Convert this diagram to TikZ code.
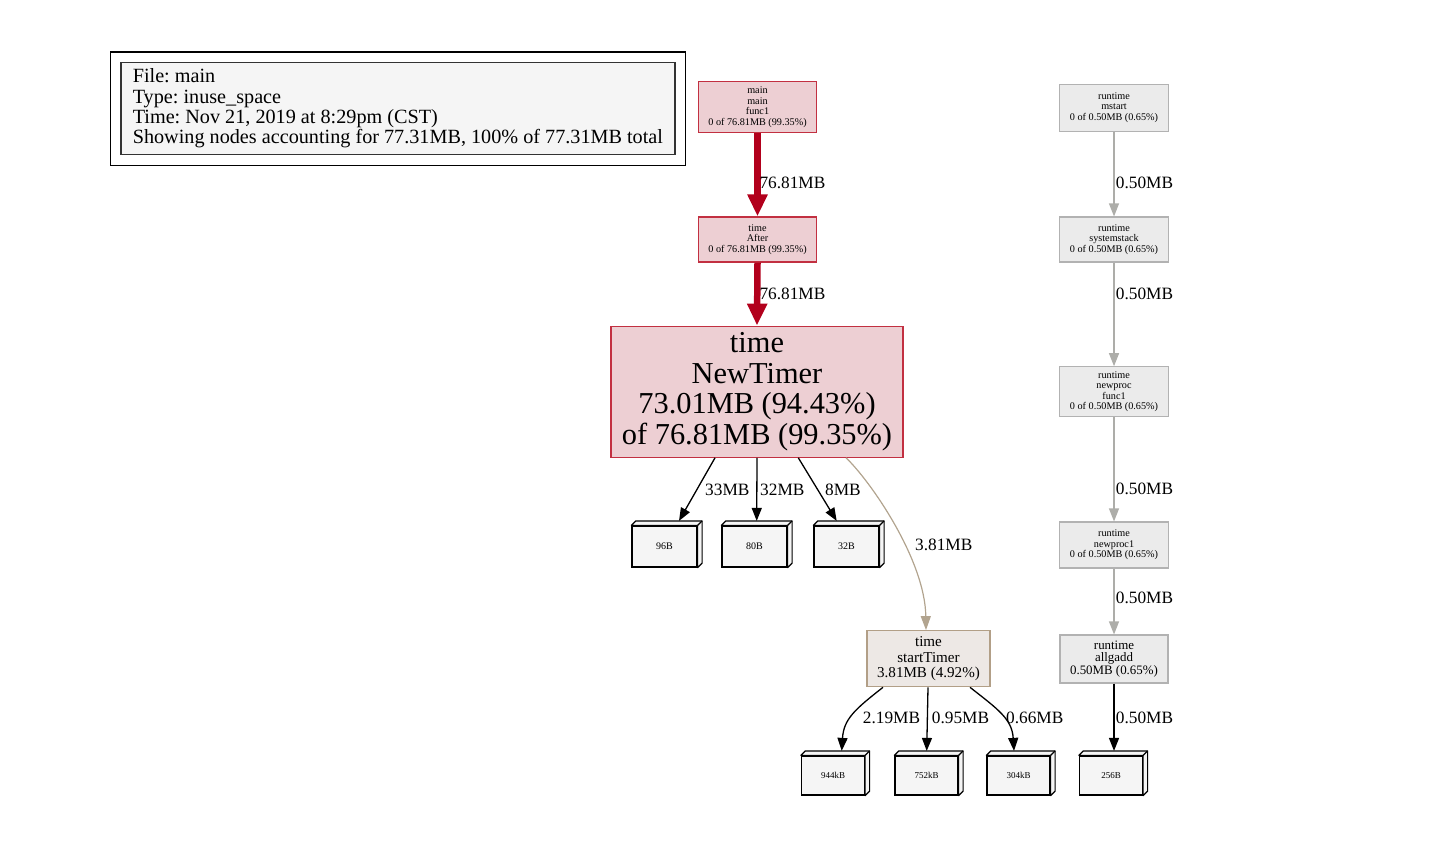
\documentclass[tikz,border=0pt]{standalone}
\usepackage{fontspec}
\setmainfont{Liberation Serif}
\usetikzlibrary{arrows.meta,calc}
\definecolor{HotFill}{HTML}{EDCFD3}
\definecolor{HotLine}{HTML}{C23041}
\definecolor{HotEdge}{HTML}{B2001C}
\definecolor{ColdFill}{HTML}{EBEBEB}
\definecolor{ColdLine}{HTML}{B2B2B2}
\definecolor{ColdEdge}{HTML}{ADADA9}
\definecolor{WarmFill}{HTML}{EDE8E5}
\definecolor{WarmLine}{HTML}{B29F87}
\definecolor{WarmEdge}{HTML}{B2A48F}
\definecolor{BoxFill}{HTML}{F5F5F5}
\frenchspacing

\begin{document}
\begin{tikzpicture}[x=1pt,y=1pt,yscale=-1,xscale=1,
	hotnode/.style={draw=HotLine, fill=HotFill, line width=1.2pt, inner sep=0pt, align=center},
	coldnode/.style={draw=ColdLine, fill=ColdFill, line width=1.2pt, inner sep=0pt, align=center},
	warmnode/.style={draw=WarmLine, fill=WarmFill, line width=1.2pt, inner sep=0pt, align=center},
	tagbox/.style={draw=black, fill=BoxFill, line width=1.2pt, inner sep=0pt, minimum height=41},
	boxface/.style={draw=black, fill=BoxFill, line width=1.2pt, line join=round},
	tinytext/.style={font=\fontsize{10.2}{10.4}\selectfont},
	elabel/.style={font=\fontsize{17.3}{17.3}\selectfont, inner sep=0pt, anchor=west},
	hotedge/.style={draw=HotEdge, line width=6.5pt, -{Triangle[length=22pt,width=19pt]}},
	coldedge/.style={draw=ColdEdge, line width=1.2pt, -{Triangle[length=13pt,width=10pt]}},
	warmedge/.style={draw=WarmEdge, line width=1.2pt, -{Triangle[length=14pt,width=10pt]}},
	tagedge/.style={draw=black, line width=1.3pt, -{Triangle[length=13pt,width=10pt]}}]
		\useasboundingbox (0,0) rectangle (1431,857);

		% Legend with its double frame
		\node[draw=black!80, fill=BoxFill, line width=1.2pt, minimum width=554, minimum height=92,
			inner sep=0pt, align=left,
			font=\fontsize{20.2}{20.4}\selectfont] (legend) at (397.9,108.5)
			{File: main\\Type: inuse\_space\\Time: Nov 21, 2019 at 8:29pm (CST)\\Showing nodes accounting for 77.31MB, 100\% of 77.31MB total};
		\draw[black, line width=1.2pt] ($(legend.north west)+(-10,-10)$) rectangle ($(legend.south east)+(10,10)$);

		% Hot path: main -> After -> NewTimer
		\node[hotnode, tinytext, minimum width=118, minimum height=51] (mainfunc) at (757.5,107.2)
			{main\\main\\func1\\0 of 76.81MB (99.35\%)};
		\node[hotnode, tinytext, minimum width=118, minimum height=45] (after) at (757.5,239.5)
			{time\\After\\0 of 76.81MB (99.35\%)};
		\node[hotnode, minimum width=292, minimum height=131, font=\fontsize{30.4}{30.5}\selectfont] (newtimer) at (757,391.7)
			{time\\NewTimer\\73.01MB (94.43\%)\\of 76.81MB (99.35\%)};

		\draw[hotedge] (mainfunc.south) -- (after.north);
		\draw[hotedge] (after.south) -- (newtimer.north);
		\node[elabel] (lmain) at (759.3,183.3) {76.81MB};
		\node[elabel] (lafter) at (759.3,294) {76.81MB};

		% Size boxes below NewTimer
		\node[tagbox, minimum width=65, font=\fontsize{10}{10}\selectfont] (b96) at (664.5,546.5) {96B};
		\node[tagbox, minimum width=65, font=\fontsize{10}{10}\selectfont] (b80) at (754.5,546.5) {80B};
		\node[tagbox, minimum width=65, font=\fontsize{10}{10}\selectfont] (b32) at (846.5,546.5) {32B};

		\draw[tagedge] ($(newtimer.south)+(-42,0)$) -- ($(b96.north)+(14.5,-4.5)$);
		\draw[tagedge] (newtimer.south) -- ($(b80.north)+(2.2,-4.5)$);
		\draw[tagedge] ($(newtimer.south)+(41.3,0)$) -- ($(b32.north)+(-9.8,-4.5)$);
		\node[elabel] (l33) at (705,490) {33MB};
		\node[elabel] (l32) at (760,490) {32MB};
		\node[elabel] (l8) at (825,490) {8MB};

		% startTimer and its size boxes
		\node[warmnode, minimum width=123, minimum height=56, font=\fontsize{15.1}{15.5}\selectfont] (starttimer) at (928.5,658.7)
			{time\\startTimer\\3.81MB (4.92\%)};
		\draw[warmedge] ($(newtimer.south)+(89,0)$) .. controls +(24,22.7) and +(-1,-70.7) .. ($(starttimer.north)+(-2.5,0)$);
		\node[elabel] (l381) at (915,545) {3.81MB};

		\node[tagbox, minimum width=63, minimum height=39, font=\fontsize{9}{9}\selectfont] (b944) at (833,775.5) {944kB};
		\node[tagbox, minimum width=63, minimum height=39, font=\fontsize{9}{9}\selectfont] (b752) at (926.5,775.5) {752kB};
		\node[tagbox, minimum width=63, minimum height=39, font=\fontsize{9}{9}\selectfont] (b304) at (1018.5,775.5) {304kB};
		\node[tagbox, minimum width=63, minimum height=39, font=\fontsize{9}{9}\selectfont] (b256) at (1111,775.5) {256B};

		\draw[tagedge] ($(starttimer.south)+(-45.5,0)$) .. controls +(-28,22) and +(2,-32) .. ($(b944.north)+(8.7,-4.5)$);
		\draw[tagedge] ($(starttimer.south)+(-0.5,0)$) -- ($(b752.north)+(0.2,-4.5)$);
		\draw[tagedge] ($(starttimer.south)+(41.5,0)$) .. controls +(28,22) and +(-2,-32) .. ($(b304.north)+(-4.5,-4.5)$);
		\node[elabel] (l219) at (862.7,718) {2.19MB};
		\node[elabel] (l095) at (931.7,718) {0.95MB};
		\node[elabel] (l066) at (1006,718) {0.66MB};

		% Runtime column on the right
		\node[coldnode, tinytext, minimum width=109, minimum height=47] (mstart) at (1114,107.7)
			{runtime\\mstart\\0 of 0.50MB (0.65\%)};
		\node[coldnode, tinytext, minimum width=109, minimum height=45] (sysstack) at (1114,239.5)
			{runtime\\systemstack\\0 of 0.50MB (0.65\%)};
		\node[coldnode, tinytext, minimum width=109, minimum height=50] (newprocf) at (1114,391.8)
			{runtime\\newproc\\func1\\0 of 0.50MB (0.65\%)};
		\node[coldnode, tinytext, minimum width=109, minimum height=46] (newproc1) at (1114,545)
			{runtime\\newproc1\\0 of 0.50MB (0.65\%)};
		\node[coldnode, minimum width=108, minimum height=48, font=\fontsize{12.9}{12.7}\selectfont] (allgadd) at (1114,659)
			{runtime\\allgadd\\0.50MB (0.65\%)};

		\draw[coldedge] (mstart.south) -- (sysstack.north);
		\draw[coldedge] (sysstack.south) -- (newprocf.north);
		\draw[coldedge] (newprocf.south) -- (newproc1.north);
		\draw[coldedge] (newproc1.south) -- (allgadd.north);
		\draw[tagedge] (allgadd.south) -- ($(b256.north)+(3,-4.5)$);
		\node[elabel] (lmstart) at (1115.7,183) {0.50MB};
		\node[elabel] (lsys) at (1115.7,294) {0.50MB};
		\node[elabel] (lnewprocf) at (1115.7,489.3) {0.50MB};
		\node[elabel] (lnewproc1) at (1115.7,598.3) {0.50MB};
		\node[elabel] (lallgadd) at (1115.7,718) {0.50MB};

		% Depth faces of the size boxes
		\foreach \n in {b96,b80,b32,b944,b752,b304,b256} {
			\draw[boxface] (\n.north west) -- ($(\n.north west)+(4.5,-4.5)$) -- ($(\n.north east)+(4.5,-4.5)$)
				-- ($(\n.south east)+(4.5,-4.5)$) -- (\n.south east) -- (\n.north east) -- cycle;
			\draw[boxface] (\n.north east) -- ($(\n.north east)+(4.5,-4.5)$);
		}
	\end{tikzpicture}
\end{document}
